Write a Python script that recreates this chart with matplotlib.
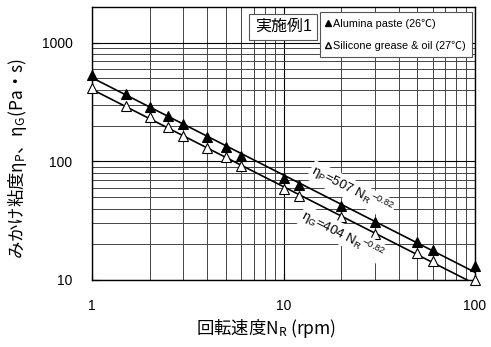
import numpy as np
import matplotlib
matplotlib.use("Agg")
import matplotlib.pyplot as plt
from matplotlib.lines import Line2D
from matplotlib.ticker import FixedLocator, NullFormatter

plt.rcParams["font.family"] = ["Liberation Sans", "Noto Sans CJK JP"]
plt.rcParams["mathtext.fontset"] = "custom"
plt.rcParams["mathtext.rm"] = "Liberation Sans"
plt.rcParams["mathtext.it"] = "Liberation Sans"
plt.rcParams["mathtext.sf"] = "Liberation Sans"

# 回転速度 (rpm)
nr_p = [1, 1.5, 2, 2.5, 3, 4, 5, 6, 10, 12, 20, 30, 50, 60, 100]
eta_p = [538, 373, 290, 240, 205, 159, 131, 112, 72, 63, 42, 31, 21, 17.9, 13]
nr_g = [1, 1.5, 2, 2.5, 3, 4, 5, 6, 10, 12, 20, 30, 50, 60, 100]
eta_g = [419, 295, 235, 193, 165, 129, 108, 92, 59, 51, 34, 24.5, 17, 14.5, 10]

# 近似式 η = K * N^n
k_p, k_g, n_exp = 507, 404, -0.82

x_ticks = [1, 10, 100]
y_ticks = [10, 100, 1000]

fig = plt.figure(figsize=(4.91, 3.47), dpi=100)
ax = fig.add_axes([0.1874, 0.1931, 0.7800, 0.7867])
ax.set_xscale("log")
ax.set_yscale("log")
ax.set_xlim(1, 100)
ax.set_ylim(10, 2000)

ax.grid(True, which="major", color="black", lw=0.8)
ax.grid(True, which="minor", color="#444444", lw=0.7)

xf = np.logspace(0, 2, 50)
ax.plot(xf, k_p * xf ** n_exp, color="black", lw=1.2, zorder=3)
ax.plot(xf, k_g * xf ** n_exp, color="black", lw=1.2, zorder=3)
ax.plot(nr_p, eta_p, "^", ms=6.5, mfc="black", mec="black", mew=0.8, zorder=4, clip_on=False)
ax.plot(nr_g, eta_g, "^", ms=6.5, mfc="white", mec="black", mew=0.8, zorder=4, clip_on=False)

ax.xaxis.set_major_locator(FixedLocator(x_ticks))
ax.yaxis.set_major_locator(FixedLocator(y_ticks))
ax.set_xticklabels([str(v) for v in x_ticks])
ax.set_yticklabels([str(v) for v in y_ticks])
ax.xaxis.set_minor_formatter(NullFormatter())
ax.yaxis.set_minor_formatter(NullFormatter())
ax.tick_params(which="major", direction="in", length=5, labelsize=10, pad=14)
ax.tick_params(which="minor", length=0)
for s in ax.spines.values():
    s.set_linewidth(1.0)
    s.set_color("black")

# 日本語を含むラベルは CJK フォントで描画する
jp = "Noto Sans CJK JP"
ax.set_xlabel("回転速度N$_\\mathregular{R}$ (rpm)", fontsize=12.5, family=jp)
ax.xaxis.set_label_coords(0.454, -0.135)
ax.set_ylabel("みかけ粘度η$_\\mathregular{P}$、η$_\\mathregular{G}$(Pa・s)", fontsize=12.5, family=jp)
ax.yaxis.set_label_coords(-0.165, 0.443)

# 近似式のラベル (線の傾きに合わせて回転)
p0 = ax.transData.transform((1, k_p))
p1 = ax.transData.transform((100, k_p * 100 ** n_exp))
ang = np.degrees(np.arctan2(p1[1] - p0[1], p1[0] - p0[0]))
box = dict(facecolor="white", edgecolor="none", pad=1)
ax.text(22.7, 57, "η$_\\mathregular{P}$=507 N$_\\mathregular{R}$$^{-0.82}$", rotation=ang,
        ha="center", va="center", fontsize=9.5, bbox=box, zorder=5)
ax.text(20.4, 24, "η$_\\mathregular{G}$=404 N$_\\mathregular{R}$$^{-0.82}$", rotation=ang,
        ha="center", va="center", fontsize=9.5, bbox=box, zorder=5)

ax.text(0.499, 0.928, "実施例1", transform=ax.transAxes, ha="center", va="center", fontsize=11.5,
        bbox=dict(facecolor="white", edgecolor="#555555", lw=0.8, pad=4), zorder=6)

handles = [
    Line2D([], [], ls="none", marker="^", ms=4, mfc="black", mec="black"),
    Line2D([], [], ls="none", marker="^", ms=4, mfc="white", mec="black"),
]
leg = ax.legend(handles, ["Alumina paste (26℃)", "Silicone grease & oil (27℃)"],
                loc="upper right", bbox_to_anchor=(0.992, 0.982), fontsize=7.8,
                handlelength=0.4, handletextpad=0.2, labelspacing=1.1, borderpad=0.6,
                borderaxespad=0, fancybox=False, edgecolor="#555555", framealpha=1)
leg.get_frame().set_linewidth(0.8)
leg.set_zorder(6)

fig.savefig("out.png", dpi=100)
